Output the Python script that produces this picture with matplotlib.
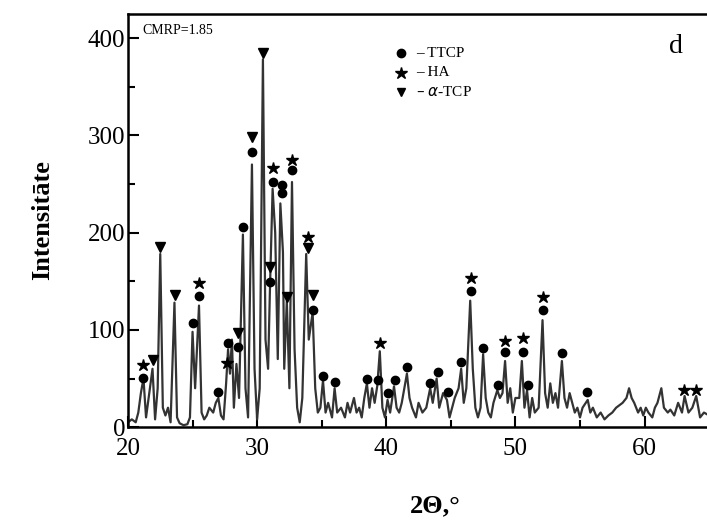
import numpy as np
import matplotlib.pyplot as plt
from matplotlib.ticker import MultipleLocator

# XRD trace (2theta, intensity)
two_theta = [20.0, 20.3, 20.6, 20.8, 21.0, 21.2, 21.4, 21.6, 21.9, 22.1, 22.3, 22.5, 22.7, 22.9,
             23.1, 23.3, 23.6, 23.8, 24.0, 24.3, 24.6, 24.8, 25.0, 25.2, 25.5, 25.7, 25.9, 26.1,
             26.3, 26.6, 26.8, 27.0, 27.2, 27.4, 27.6, 27.75, 27.9, 28.05, 28.2, 28.4, 28.6, 28.9,
             29.1, 29.3, 29.6, 29.8, 30.0, 30.2, 30.45, 30.65, 30.85, 31.0, 31.2, 31.4, 31.6, 31.8,
             32.0, 32.1, 32.3, 32.5, 32.7, 32.9, 33.1, 33.3, 33.5, 33.8, 34.0, 34.3, 34.5, 34.7,
             34.9, 35.1, 35.3, 35.5, 35.8, 36.0, 36.2, 36.5, 36.8, 37.0, 37.2, 37.5, 37.7, 37.9,
             38.1, 38.3, 38.5, 38.7, 38.9, 39.1, 39.3, 39.5, 39.7, 39.9, 40.1, 40.3, 40.6, 40.8,
             41.0, 41.2, 41.6, 41.8, 42.0, 42.3, 42.5, 42.8, 43.1, 43.4, 43.6, 43.9, 44.1, 44.4,
             44.7, 44.9, 45.1, 45.3, 45.6, 45.8, 46.0, 46.2, 46.5, 46.7, 46.9, 47.1, 47.3, 47.5,
             47.7, 47.9, 48.1, 48.3, 48.6, 48.8, 49.0, 49.2, 49.4, 49.6, 49.8, 50.0, 50.3, 50.5,
             50.7, 50.9, 51.1, 51.3, 51.5, 51.8, 52.1, 52.3, 52.5, 52.7, 52.9, 53.1, 53.3, 53.6,
             53.8, 54.0, 54.2, 54.4, 54.6, 54.8, 55.0, 55.2, 55.6, 55.8, 56.0, 56.3, 56.6, 56.9,
             57.2, 57.5, 57.8, 58.0, 58.3, 58.6, 58.8, 59.0, 59.2, 59.5, 59.7, 59.9, 60.1, 60.3,
             60.6, 60.8, 61.0, 61.3, 61.5, 61.8, 62.0, 62.3, 62.6, 62.9, 63.1, 63.4, 63.7, 64.0,
             64.3, 64.6, 65.0]
intensity = [5, 8, 5, 15, 35, 50, 10, 30, 60, 8, 40, 178, 20, 12,
             20, 5, 128, 10, 4, 2, 3, 10, 98, 40, 125, 15, 8, 12,
             20, 15, 25, 30, 12, 8, 45, 80, 55, 90, 20, 65, 30, 198,
             40, 10, 270, 60, 8, 40, 378, 90, 60, 145, 245, 200, 70, 230,
             180, 60, 130, 40, 252, 80, 20, 5, 30, 178, 90, 118, 40, 15,
             20, 48, 15, 25, 10, 40, 15, 20, 10, 25, 15, 30, 15, 20,
             10, 30, 45, 20, 40, 25, 42, 78, 20, 10, 28, 15, 42, 20,
             15, 25, 55, 30, 20, 10, 25, 15, 20, 40, 25, 50, 20, 35,
             28, 10, 20, 30, 40, 60, 25, 40, 130, 60, 20, 10, 20, 75,
             30, 15, 10, 25, 38, 30, 35, 68, 25, 40, 15, 30, 30, 68,
             20, 38, 10, 30, 15, 20, 110, 35, 20, 45, 25, 35, 20, 68,
             30, 20, 35, 25, 15, 20, 10, 20, 28, 15, 20, 10, 15, 8,
             12, 15, 20, 22, 25, 30, 40, 30, 25, 15, 20, 12, 20, 15,
             10, 20, 25, 40, 20, 15, 18, 12, 25, 15, 32, 15, 20, 32,
             10, 15, 12]

# phase markers
ttcp_x = [21.16, 25.03, 25.49, 26.96, 27.73, 28.51, 28.89, 29.59, 31.21, 31.91, 31.91, 30.98,
          32.68, 34.31, 35.08, 36.0, 38.48, 39.33, 40.65, 40.11, 41.58, 43.36, 43.98, 44.75,
          45.75, 46.53, 47.46, 48.62, 49.23, 50.55, 50.94, 52.10, 53.57, 55.58]
ttcp_y = [51, 107, 135, 36, 87, 82, 206, 283, 252, 249, 241, 149,
          264, 120, 53, 46, 50, 48, 48, 35, 62, 45, 57, 36,
          67, 140, 81, 43, 77, 77, 43, 120, 76, 36]
ha_x = [21.16, 25.49, 27.66, 31.21, 32.68, 33.92, 39.49, 46.53, 49.23, 50.55, 52.10, 63.08, 64.0]
ha_y = [64, 148, 66, 266, 275, 195, 86, 153, 89, 92, 134, 38, 38]
atcp_x = [21.93, 22.47, 23.63, 28.51, 29.59, 30.44, 30.98, 32.30, 33.92, 34.31]
atcp_y = [69, 185, 136, 97, 298, 385, 165, 134, 184, 136]

plt.rcParams['font.family'] = ['Liberation Serif', 'DejaVu Serif']

fig = plt.figure(figsize=(7.07, 5.28), dpi=100)
ax = fig.add_axes([0.181, 0.191, 0.822, 0.783])

ax.plot(two_theta, intensity, color='#333333', lw=1.6)
ax.plot(ttcp_x, ttcp_y, 'o', color='black', ms=6, ls='none')
ax.plot(ha_x, ha_y, '*', color='black', ms=9, ls='none')
ax.plot(atcp_x, atcp_y, 'v', color='black', ms=7, ls='none')

ax.set_xlim(20, 65)
ax.set_ylim(0, 425)
ax.xaxis.set_major_locator(MultipleLocator(10))
ax.xaxis.set_minor_locator(MultipleLocator(5))
ax.yaxis.set_major_locator(MultipleLocator(100))
ax.yaxis.set_minor_locator(MultipleLocator(50))
ax.tick_params(which='both', direction='in', width=1.5, labelsize=18)
ax.tick_params(which='major', length=8)
ax.tick_params(which='minor', length=5)
ax.tick_params(axis='y', pad=2)
ax.tick_params(axis='x', pad=8)
for s in ax.spines.values():
    s.set_linewidth(1.8)

ax.set_ylabel('Intensitāte', fontsize=19, fontweight='bold', labelpad=24)
fig.text(0.615, 0.03, '2Θ,°', fontsize=19, fontweight='bold', ha='center')

ax.text(0.025, 0.975, 'CMRP=1.85', transform=ax.transAxes, fontsize=10, va='top')
ax.text(0.955, 0.95, 'd', transform=ax.transAxes, fontsize=20, va='top', ha='right')

# legend drawn by hand
leg_y = [0.905, 0.857, 0.81]
leg_m = ['o', '*', 'v']
leg_t = ['TTCP', 'HA', r'$\alpha$-TCP']
for yy, mk, tt in zip(leg_y, leg_m, leg_t):
    ax.plot([0.47], [yy], mk, color='black', ms=6 if mk != '*' else 9, transform=ax.transAxes)
    ax.text(0.495, yy, '– ' + tt, transform=ax.transAxes, fontsize=11, va='center')

fig.savefig('out.png', dpi=100)
